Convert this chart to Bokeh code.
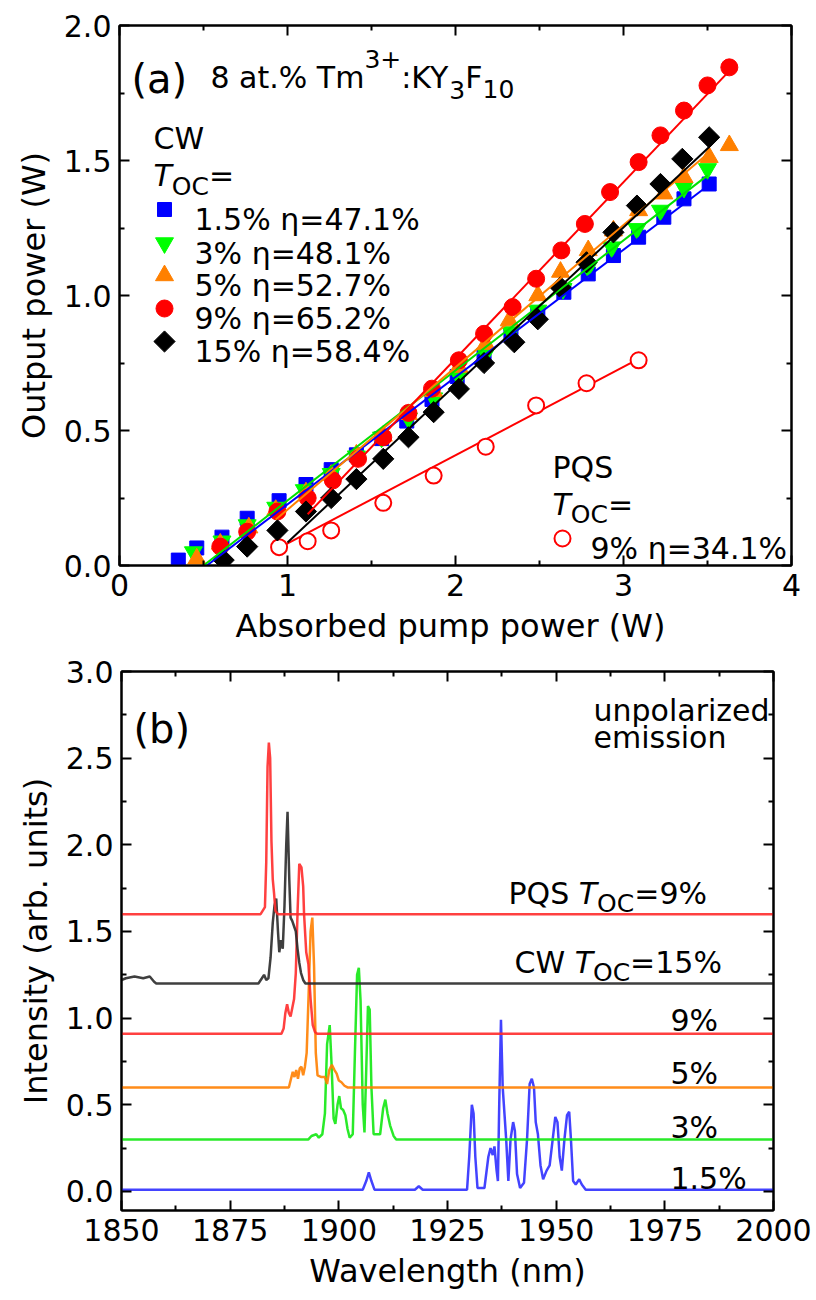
import numpy as np
from bokeh.plotting import figure
from bokeh.models import Label, Range1d, LinearAxis, FixedTicker, PrintfTickFormatter
from bokeh.embed import file_html
from bokeh.resources import INLINE

FONT = "DejaVu Sans"

# ---------------- Panel (a) data: absorbed pump power (W) vs output power (W) ----------------
oc15_x = [0.35, 0.46, 0.61, 0.76, 0.95, 1.11, 1.26, 1.41, 1.56, 1.71, 1.86, 2.01, 2.17, 2.33, 2.49, 2.645, 2.79, 2.94, 3.09, 3.24, 3.36, 3.51]
oc15_y = [0.02, 0.065, 0.105, 0.175, 0.24, 0.30, 0.355, 0.41, 0.47, 0.535, 0.615, 0.70, 0.775, 0.855, 0.935, 1.012, 1.08, 1.148, 1.216, 1.29, 1.358, 1.413]

oc3_x = [0.44, 0.61, 0.76, 0.93, 1.10, 1.26, 1.41, 1.56, 1.72, 1.87, 2.02, 2.18, 2.33, 2.49, 2.64, 2.79, 2.93, 3.08, 3.22, 3.36, 3.50]
oc3_y = [0.05, 0.09, 0.15, 0.215, 0.28, 0.34, 0.405, 0.475, 0.545, 0.62, 0.70, 0.785, 0.865, 0.945, 1.025, 1.105, 1.179, 1.247, 1.315, 1.40, 1.469]

oc5_x = [0.46, 0.60, 0.77, 0.93, 1.11, 1.26, 1.41, 1.57, 1.72, 1.87, 2.02, 2.18, 2.32, 2.49, 2.625, 2.79, 2.94, 3.09, 3.24, 3.36, 3.51, 3.63]
oc5_y = [0.025, 0.08, 0.14, 0.205, 0.27, 0.335, 0.41, 0.48, 0.56, 0.645, 0.735, 0.82, 0.907, 1.0, 1.087, 1.167, 1.24, 1.315, 1.377, 1.438, 1.512, 1.556]

oc9_x = [0.60, 0.76, 0.94, 1.12, 1.27, 1.42, 1.57, 1.72, 1.86, 2.02, 2.17, 2.34, 2.48, 2.63, 2.77, 2.92, 3.09, 3.22, 3.36, 3.50, 3.63]
oc9_y = [0.07, 0.125, 0.20, 0.25, 0.315, 0.395, 0.475, 0.565, 0.655, 0.76, 0.858, 0.957, 1.062, 1.167, 1.265, 1.383, 1.494, 1.593, 1.685, 1.778, 1.845]

oc15b_x = [0.62, 0.76, 0.94, 1.11, 1.26, 1.41, 1.57, 1.72, 1.87, 2.02, 2.17, 2.35, 2.49, 2.625, 2.78, 2.94, 3.08, 3.22, 3.35, 3.51]
oc15b_y = [0.02, 0.07, 0.13, 0.20, 0.25, 0.32, 0.395, 0.475, 0.568, 0.654, 0.75, 0.827, 0.912, 1.03, 1.123, 1.234, 1.333, 1.413, 1.506, 1.586]

pqs_x = [0.95, 1.12, 1.26, 1.57, 1.87, 2.18, 2.48, 2.78, 3.09]
pqs_y = [0.068, 0.09, 0.13, 0.232, 0.333, 0.44, 0.593, 0.675, 0.76]

# linear fits (end points)
fit15_x, fit15_y = [0.52, 3.51], [0.0, 1.41]      # 1.5 %
fit3_x, fit3_y = [0.50, 3.50], [0.0, 1.445]       # 3 %
fit5_x, fit5_y = [0.93, 3.51], [0.17, 1.53]       # 5 %
fit9_x, fit9_y = [1.12, 3.65], [0.19, 1.845]      # 9 %
fit15b_x, fit15b_y = [1.00, 3.51], [0.085, 1.55]  # 15 %
fitpqs_x, fitpqs_y = [0.95, 3.09], [0.065, 0.765] # PQS 9 %

legend_labels = ["1.5% η=47.1%", "3% η=48.1%", "5% η=52.7%", "9% η=65.2%", "15% η=58.4%"]

# ---------------- Panel (b) data: normalized spectra, offset baselines ----------------
wl_15 = [1850, 1905.5, 1906.3, 1906.9, 1907.5, 1908.2, 1917.5, 1918.4, 1919.3, 1929.5, 1930.0, 1930.6, 1931.0, 1931.4, 1931.9,
         1933.5, 1934.4, 1934.9, 1935.4, 1935.8, 1936.3, 1936.6, 1936.9, 1937.3, 1937.7, 1938.1, 1938.5, 1939.0, 1939.5,
         1940.1, 1940.5, 1941.0, 1941.7, 1942.6, 1943.3, 1943.9, 1944.4, 1944.9, 1945.3, 1945.8, 1946.4, 1947.0, 1947.8,
         1948.5, 1949.2, 1949.8, 1950.3, 1950.8, 1951.3, 1951.9, 1952.5, 1953.0, 1953.4, 1953.9, 1954.5, 1955.3, 1955.9, 1956.8, 2000]
in_15 = [0.01, 0.01, 0.06, 0.11, 0.06, 0.01, 0.01, 0.03, 0.01, 0.01, 0.2, 0.50, 0.45, 0.2, 0.02,
         0.02, 0.2, 0.25, 0.21, 0.26, 0.12, 0.06, 0.5, 0.99, 0.6, 0.45, 0.3, 0.06, 0.3,
         0.40, 0.35, 0.1, 0.02, 0.05, 0.3, 0.62, 0.65, 0.6, 0.4, 0.33, 0.15, 0.07, 0.12,
         0.15, 0.3, 0.43, 0.4, 0.2, 0.12, 0.3, 0.44, 0.46, 0.3, 0.06, 0.04, 0.07, 0.04, 0.01, 0.01]

wl_3 = [1850, 1893.0, 1893.7, 1894.8, 1895.4, 1896.2, 1896.8, 1897.3, 1897.9, 1898.3, 1898.8, 1899.2, 1899.7, 1900.1, 1900.5,
        1901.0, 1901.5, 1902.0, 1902.5, 1903.2, 1903.7, 1904.2, 1904.6, 1905.0, 1905.5, 1905.9, 1906.3, 1906.7, 1907.1,
        1907.5, 1908.0, 1909.5, 1910.2, 1910.7, 1911.2, 1911.8, 1912.6, 1913.2, 2000]
in_3 = [0.0, 0.0, 0.02, 0.03, 0.01, 0.03, 0.15, 0.55, 0.66, 0.45, 0.12, 0.09, 0.2, 0.25, 0.18,
        0.17, 0.14, 0.06, 0.01, 0.03, 0.5, 0.95, 0.99, 0.8, 0.2, 0.04, 0.4, 0.77, 0.75,
        0.3, 0.03, 0.03, 0.18, 0.23, 0.15, 0.08, 0.02, 0.0, 0.0]

wl_5 = [1850, 1888.5, 1889.0, 1889.4, 1889.8, 1890.2, 1890.6, 1891.0, 1891.4, 1891.8, 1892.2, 1892.6, 1893.0, 1893.5, 1893.9,
        1894.3, 1894.7, 1895.1, 1896.0, 1896.8, 1897.3, 1897.8, 1898.4, 1899.0, 1899.5, 1900.0, 1900.6, 1901.3, 1902.0, 2000]
in_5 = [0.0, 0.0, 0.05, 0.09, 0.06, 0.1, 0.05, 0.11, 0.12, 0.07, 0.12, 0.2, 0.5, 0.9, 0.98,
        0.7, 0.2, 0.07, 0.06, 0.06, 0.02, 0.1, 0.13, 0.1, 0.08, 0.04, 0.03, 0.01, 0.0, 0.0]

wl_9 = [1850, 1886.8, 1887.3, 1887.7, 1888.1, 1888.5, 1888.9, 1889.3, 1889.7, 1890.1, 1890.5, 1890.9, 1891.4, 1891.8,
        1892.0, 1892.5, 1893.0, 1893.5, 1894.0, 1894.5, 1895.0, 2000]
in_9 = [0.0, 0.0, 0.03, 0.12, 0.17, 0.12, 0.1, 0.15, 0.2, 0.35, 0.7, 0.98, 0.96, 0.85,
        0.69, 0.47, 0.4, 0.2, 0.05, 0.01, 0.0, 0.0]

wl_15cw = [1850, 1851, 1853, 1855, 1856.5, 1857.5, 1858, 1881.5, 1882.3, 1882.8, 1883.3, 1883.8, 1884.3, 1884.8, 1885.2,
           1885.6, 1886.0, 1886.3, 1886.7, 1887.1, 1887.5, 1887.9, 1888.2, 1888.6, 1888.9, 1889.3, 1889.7, 1890.1, 1890.5,
           1890.9, 1891.3, 1891.8, 1892.3, 2000]
in_15cw = [0.02, 0.03, 0.04, 0.03, 0.04, 0.01, 0.0, 0.0, 0.03, 0.05, 0.02, 0.03, 0.15, 0.35, 0.45,
           0.49, 0.3, 0.18, 0.25, 0.2, 0.45, 0.8, 0.99, 0.6, 0.38, 0.36, 0.33, 0.3, 0.2,
           0.12, 0.06, 0.02, 0.0, 0.0]

wl_pqs = [1850, 1882.0, 1882.5, 1883.0, 1883.3, 1883.6, 1883.9, 1884.2, 1884.5, 1884.8, 1885.1, 1885.4, 1886.0, 2000]
in_pqs = [0.0, 0.0, 0.02, 0.04, 0.3, 0.85, 0.99, 0.9, 0.42, 0.2, 0.12, 0.02, 0.0, 0.0]

baselines = {"1.5": 0.0, "3": 0.3, "5": 0.6, "9": 0.91, "15": 1.2, "pqs": 1.6}

# ---------------- helpers ----------------
EM = {" ": .318, "%": .950, "(": .390, ")": .390, "+": .838, ".": .318, ":": .337, "=": .838,
      "C": .698, "F": .575, "K": .656, "O": .787, "P": .603, "Q": .787, "S": .635, "T": .611,
      "W": .989, "Y": .611, "a": .613, "m": .974, "t": .392, "η": .634}


def tw(s, size):
    return sum(EM.get(c, .636) for c in s) * size


def style(p, xt, xm, yt, ym, xfmt, yfmt, xlabel, ylabel):
    p.xgrid.visible = False
    p.ygrid.visible = False
    p.add_layout(LinearAxis(), "above")
    p.add_layout(LinearAxis(), "right")
    p.outline_line_color = "black"
    p.outline_line_width = 2
    for ax in p.xaxis:
        ax.ticker = FixedTicker(ticks=xt, minor_ticks=xm)
        ax.formatter = PrintfTickFormatter(format=xfmt)
    for ax in p.yaxis:
        ax.ticker = FixedTicker(ticks=yt, minor_ticks=ym)
        ax.formatter = PrintfTickFormatter(format=yfmt)
    for ax in p.axis:
        ax.axis_line_width = 2
        ax.axis_line_color = "black"
        ax.major_tick_in = 10
        ax.major_tick_out = 0
        ax.minor_tick_in = 5
        ax.minor_tick_out = 0
        ax.major_tick_line_width = 2
        ax.minor_tick_line_width = 2
        ax.major_label_text_font = FONT
        ax.major_label_text_font_size = "30px"
        ax.major_label_text_color = "black"
        ax.major_label_standoff = 8
        ax.axis_label_text_font = FONT
        ax.axis_label_text_font_size = "32px"
        ax.axis_label_text_font_style = "normal"
        ax.axis_label_text_color = "black"
        ax.axis_label_standoff = 8
    # mirror axes: ticks only
    for ax in (p.above[0], p.right[0]):
        ax.major_label_text_font_size = "1px"
        ax.major_label_text_color = None
        ax.major_label_standoff = 0
        ax.axis_label_standoff = 0
    p.below[0].axis_label = xlabel
    p.left[0].axis_label = ylabel


def rich(p, cx, cy, x0, ybase, parts):
    x = x0
    for t, size, st, dy in parts:
        p.add_layout(Label(x=cx(x), y=cy(ybase + dy), text=t, text_font=FONT,
                           text_font_size=f"{size}px", text_font_style=st,
                           text_color="black", text_align="left", text_baseline="alphabetic"))
        x += tw(t, size)


# ---------------- Panel (a) ----------------
p1 = figure(width=816, height=655, x_range=Range1d(0, 4), y_range=Range1d(0, 2.0),
            output_backend="svg", toolbar_location=None,
            min_border_left=119, min_border_right=25, min_border_top=25, min_border_bottom=90)
style(p1, [0, 1, 2, 3, 4], [0.5, 1.5, 2.5, 3.5], [0, 0.5, 1.0, 1.5, 2.0], [0.25, 0.75, 1.25, 1.75], "%d", "%.1f",
      "Absorbed  pump power (W)", "Output power (W)")

ax_ = lambda px: (px - 119) / 168.0
ay_ = lambda py: (565 - py) / 270.0

# PQS fit and points
p1.line(fitpqs_x, fitpqs_y, line_color="#ff0000", line_width=2)
p1.scatter(pqs_x, pqs_y, marker="circle", size=16, line_color="#ff0000", line_width=2, fill_color="white")

p1.scatter(oc15_x, oc15_y, marker="square", size=14, color="#0000ff")
p1.scatter(oc3_x, oc3_y, marker="inverted_triangle", size=18, color="#00ff00")
p1.scatter(oc5_x, oc5_y, marker="triangle", size=18, color="#ff8000")
p1.scatter(oc9_x, oc9_y, marker="circle", size=17, color="#ff0000")
p1.scatter(oc15b_x, oc15b_y, marker="square", angle=np.pi / 4, size=15, color="black")

p1.line(fit15_x, fit15_y, line_color="#0000ff", line_width=2)
p1.line(fit3_x, fit3_y, line_color="#00e000", line_width=2)
p1.line(fit5_x, fit5_y, line_color="#ff8000", line_width=2)
p1.line(fit9_x, fit9_y, line_color="#ff0000", line_width=2)
p1.line(fit15b_x, fit15b_y, line_color="black", line_width=2)

# title
rich(p1, ax_, ay_, 131, 78, [("(a)", 40, "normal", 0)])
rich(p1, ax_, ay_, 210, 77, [("8 at.% Tm", 30, "normal", 0), ("3+", 25, "normal", -19), (":KY", 30, "normal", 0),
                             ("3", 25, "normal", 12), ("F", 30, "normal", 0), ("10", 25, "normal", 11)])
# CW legend
rich(p1, ax_, ay_, 153, 138, [("CW", 30, "normal", 0)])
rich(p1, ax_, ay_, 153, 175, [("T", 30, "italic", 0), ("OC", 25, "normal", 11), ("=", 30, "normal", 0)])
leg_y = [209, 242.5, 275, 308, 341]
leg_marker = [dict(marker="square", size=14, color="#0000ff"),
              dict(marker="inverted_triangle", size=18, color="#00ff00"),
              dict(marker="triangle", size=18, color="#ff8000"),
              dict(marker="circle", size=17, color="#ff0000"),
              dict(marker="square", size=15, angle=np.pi / 4, color="black")]
for yy, lab, mk in zip(leg_y, legend_labels, leg_marker):
    p1.scatter([ax_(164)], [ay_(yy)], **mk)
    rich(p1, ax_, ay_, 194, yy + 10, [(lab, 30, "normal", 0)])
# PQS legend
rich(p1, ax_, ay_, 552, 467, [("PQS", 30, "normal", 0)])
rich(p1, ax_, ay_, 552, 504, [("T", 30, "italic", 0), ("OC", 25, "normal", 10), ("=", 30, "normal", 0)])
p1.scatter([ax_(562)], [ay_(538)], marker="circle", size=16, line_color="#ff0000", line_width=2, fill_color="white")
rich(p1, ax_, ay_, 590, 548, [("9% η=34.1%", 30, "normal", 0)])

# ---------------- Panel (b) ----------------
p2 = figure(width=816, height=645, x_range=Range1d(1850, 2000), y_range=Range1d(-0.11, 3.0),
            output_backend="svg", toolbar_location=None,
            min_border_left=121, min_border_right=43, min_border_top=16, min_border_bottom=90)
style(p2, [1850, 1875, 1900, 1925, 1950, 1975, 2000], [1862.5, 1887.5, 1912.5, 1937.5, 1962.5, 1987.5],
      [0, 0.5, 1.0, 1.5, 2.0, 2.5, 3.0], [0.25, 0.75, 1.25, 1.75, 2.25, 2.75], "%d", "%.1f",
      "Wavelength (nm)", "Intensity (arb. units)")

bx_ = lambda px: 1850 + (px - 121) * 150.0 / 652.0
by_ = lambda py: -0.11 + (1210 - py) * 3.11 / 539.0

spectra = [(wl_15, in_15, baselines["1.5"], "#2f2fff"),
           (wl_3, in_3, baselines["3"], "#12e812"),
           (wl_5, in_5, baselines["5"], "#ff8000"),
           (wl_9, in_9, baselines["9"], "#ff2b2b"),
           (wl_15cw, in_15cw, baselines["15"], "#2a2a2a"),
           (wl_pqs, in_pqs, baselines["pqs"], "#ff2b2b")]
for wl, it, b, col in spectra:
    p2.line(wl, [b + v for v in it], line_color=col, line_width=2.5, line_alpha=0.9)

rich(p2, bx_, by_, 133, 728, [("(b)", 40, "normal", 0)])
rich(p2, bx_, by_, 593, 710, [("unpolarized", 30, "normal", 0)])
rich(p2, bx_, by_, 593, 737, [("emission", 30, "normal", 0)])
rich(p2, bx_, by_, 508, 893, [("PQS ", 30, "normal", 0), ("T", 30, "italic", 0), ("OC", 25, "normal", 10),
                              ("=9%", 30, "normal", 0)])
rich(p2, bx_, by_, 514, 962, [("CW ", 30, "normal", 0), ("T", 30, "italic", 0), ("OC", 25, "normal", 10),
                              ("=15%", 30, "normal", 0)])
rich(p2, bx_, by_, 670, 1020, [("9%", 30, "normal", 0)])
rich(p2, bx_, by_, 670, 1073, [("5%", 30, "normal", 0)])
rich(p2, bx_, by_, 670, 1127, [("3%", 30, "normal", 0)])
rich(p2, bx_, by_, 670, 1178, [("1.5%", 30, "normal", 0)])

# two independent roots stacked vertically (keeps each panel's own frame width)
open("out.html", "w").write(file_html([p1, p2], INLINE))
